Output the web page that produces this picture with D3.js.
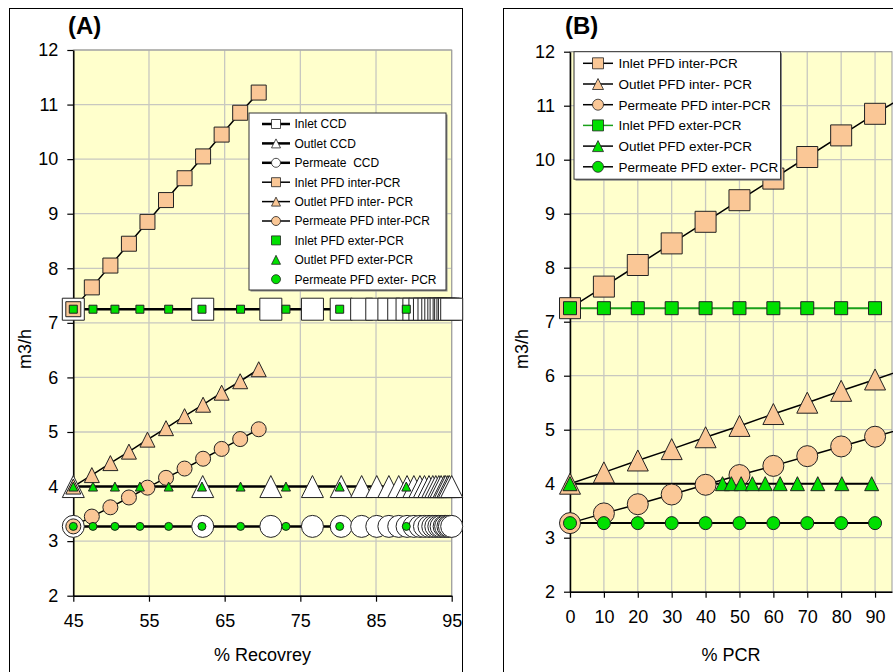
<!DOCTYPE html>
<html>
<head>
<meta charset="utf-8">
<script src="https://cdn.jsdelivr.net/npm/d3@7"></script>
<style>
  body { margin: 0; background: #fff; }
  text { font-family: "Liberation Sans", Arial, sans-serif; }
</style>
</head>
<body>
<script>

// ---- panel A data (% recovery) ----
var recCCD = [45, 62.1, 71.1, 76.6, 80.4, 83.1, 85.1, 86.7, 88.0, 89.1, 90.0, 90.8, 91.4, 92.0, 92.5, 92.9, 93.3, 93.6, 94.0, 94.2, 94.5, 94.7, 95.0];
var inletCCD = [7.25, 7.25, 7.25, 7.25, 7.25, 7.25, 7.25, 7.25, 7.25, 7.25, 7.25, 7.25, 7.25, 7.25, 7.25, 7.25, 7.25, 7.25, 7.25, 7.25, 7.25, 7.25, 7.25];
var outletCCD = [4, 4, 4, 4, 4, 4, 4, 4, 4, 4, 4, 4, 4, 4, 4, 4, 4, 4, 4, 4, 4, 4, 4];
var permCCD = [3.27, 3.27, 3.27, 3.27, 3.27, 3.27, 3.27, 3.27, 3.27, 3.27, 3.27, 3.27, 3.27, 3.27, 3.27, 3.27, 3.27, 3.27, 3.27, 3.27, 3.27, 3.27, 3.27];

var recInter = [45, 47.45, 49.9, 52.35, 54.8, 57.25, 59.7, 62.15, 64.6, 67.05, 69.5];
var recExter = [45, 47.6, 50.5, 53.8, 57.6, 62.0, 67.1, 73.1, 80.2, 89.0];

// ---- shared PFD values ----
var inletInter = [7.25, 7.65, 8.05, 8.45, 8.85, 9.25, 9.65, 10.05, 10.45, 10.85, 11.22];
var outletInter = [4.0, 4.21, 4.43, 4.64, 4.86, 5.07, 5.29, 5.5, 5.72, 5.93, 6.15];
var permInter = [3.27, 3.45, 3.62, 3.8, 3.98, 4.16, 4.33, 4.51, 4.69, 4.87, 5.05];
var inletExter = [7.25, 7.25, 7.25, 7.25, 7.25, 7.25, 7.25, 7.25, 7.25, 7.25];
var outletExter = [4, 4, 4, 4, 4, 4, 4, 4, 4, 4, 4];
var permExter = [3.27, 3.27, 3.27, 3.27, 3.27, 3.27, 3.27, 3.27, 3.27, 3.27];

// ---- panel B x values (% PCR) ----
var pcr = [0, 10, 20, 30, 40, 50, 60, 70, 80, 90, 100];
var pcrExter = [0, 10, 20, 30, 40, 50, 60, 70, 80, 90];
var pcrOutletExter = [0, 45, 47.6, 50.5, 53.8, 57.6, 62.0, 67.1, 73.1, 80.2, 89.0];

var ticksA = [45, 55, 65, 75, 85, 95];
var ticksB = [0, 10, 20, 30, 40, 50, 60, 70, 80, 90];
var ticksY = [2, 3, 4, 5, 6, 7, 8, 9, 10, 11, 12];

var tan = "#fac796";
var green = "#00e000";
var plotBg = "#ffffcc";
var gridCol = "#c8c8c0";

var svg = d3.select("body").append("svg")
  .attr("width", 893)
  .attr("height", 672);

// marker shapes, size = box width in px
function shapePath(shape, s) {
  var h = s / 2;
  if (shape == "square") return "M" + (-h) + "," + (-h) + "h" + s + "v" + s + "h" + (-s) + "Z";
  if (shape == "triangle") return "M0," + (-h) + "L" + h + "," + h + "L" + (-h) + "," + h + "Z";
  return "M" + h + ",0A" + h + "," + h + " 0 1,1 " + (-h) + ",0A" + h + "," + h + " 0 1,1 " + h + ",0Z";
}

function drawLine(g, x, y, xs, ys, color, width) {
  var pts = xs.map(function (v, i) { return [v, ys[i]]; });
  g.append("path")
    .datum(pts)
    .attr("d", d3.line().x(function (d) { return x(d[0]); }).y(function (d) { return y(d[1]); }))
    .attr("fill", "none")
    .attr("stroke", color)
    .attr("stroke-width", width);
}

function drawMarkers(g, x, y, xs, ys, shape, size, fill) {
  var pts = xs.map(function (v, i) { return [v, ys[i]]; });
  g.append("g").selectAll("path")
    .data(pts)
    .enter()
    .append("path")
    .attr("transform", function (d) { return "translate(" + x(d[0]) + "," + y(d[1]) + ")"; })
    .attr("d", shapePath(shape, size))
    .attr("fill", fill)
    .attr("stroke", "#222")
    .attr("stroke-width", 1);
}

function panel(id, frameX, left, right, top, bottom, xDomain, xTicks, xLabel, title, titleX) {
  svg.append("rect")
    .attr("x", frameX).attr("y", 8.5)
    .attr("width", id == "A" ? 453 : 500)
    .attr("height", 700)
    .attr("fill", "none")
    .attr("stroke", "#000")
    .attr("stroke-width", 1);

  var x = d3.scaleLinear().domain(xDomain).range([left, right]);
  var y = d3.scaleLinear().domain([2, 12]).range([bottom, top]);

  svg.append("rect")
    .attr("x", left).attr("y", top)
    .attr("width", right - left).attr("height", bottom - top)
    .attr("fill", plotBg);

  var grid = svg.append("g");
  grid.selectAll(".gx").data(xTicks.filter(function (t) { return t > xDomain[0]; }))
    .enter().append("line")
    .attr("x1", function (d) { return x(d); }).attr("x2", function (d) { return x(d); })
    .attr("y1", top).attr("y2", bottom)
    .attr("stroke", gridCol).attr("stroke-width", 1.3);
  grid.selectAll(".gy").data(ticksY.filter(function (t) { return t > 2; }))
    .enter().append("line")
    .attr("x1", left).attr("x2", right)
    .attr("y1", function (d) { return y(d); }).attr("y2", function (d) { return y(d); })
    .attr("stroke", gridCol).attr("stroke-width", 1.3);

  svg.append("rect")
    .attr("x", left).attr("y", top)
    .attr("width", right - left).attr("height", bottom - top)
    .attr("fill", "none")
    .attr("stroke", "#999").attr("stroke-width", 1);

  var yAxis = svg.append("g")
    .attr("transform", "translate(" + left + ",0)")
    .call(d3.axisLeft(y).tickValues(ticksY).tickSize(6).tickPadding(9).tickSizeOuter(0));
  var xAxis = svg.append("g")
    .attr("transform", "translate(0," + bottom + ")")
    .call(d3.axisBottom(x).tickValues(xTicks).tickSize(6).tickPadding(13).tickSizeOuter(0));
  [xAxis, yAxis].forEach(function (a) {
    a.select(".domain").attr("stroke", "#000").attr("stroke-width", 1.5);
    a.selectAll(".tick line").attr("stroke", "#000").attr("stroke-width", 1.2);
    a.selectAll("text").attr("font-size", "18px").attr("fill", "#000")
      .attr("font-family", "'Liberation Sans', Arial, sans-serif");
  });

  svg.append("text")
    .attr("x", titleX).attr("y", 34)
    .attr("font-size", "24px").attr("font-weight", "bold")
    .text(title);

  svg.append("text")
    .attr("x", (left + right) / 2).attr("y", 661)
    .attr("text-anchor", "middle")
    .attr("font-size", "18px")
    .text(xLabel);

  svg.append("text")
    .attr("transform", "translate(" + (left - 42) + ",349) rotate(-90)")
    .attr("text-anchor", "middle")
    .attr("font-size", "18px")
    .text("m3/h");

  svg.append("clipPath").attr("id", "clip" + id)
    .append("rect")
    .attr("x", left - 14).attr("y", top)
    .attr("width", right - left + 28).attr("height", bottom - top);

  var g = svg.append("g");
  var gl = g.append("g").attr("clip-path", "url(#clip" + id + ")");
  return { x: x, y: y, lines: gl, marks: g };
}

// ---------- Panel A ----------
var A = panel("A", 9.5, 73.3, 451.7, 50, 595.7, [45, 95], ticksA, "% Recovrey", "(A)", 68);
var aClip = A.lines;
drawLine(aClip, A.x, A.y, recCCD, inletCCD, "#000", 2.5);
drawLine(aClip, A.x, A.y, recCCD, outletCCD, "#000", 2.5);
drawLine(aClip, A.x, A.y, recCCD, permCCD, "#000", 2.5);
drawLine(aClip, A.x, A.y, recInter, inletInter, "#000", 1.5);
drawLine(aClip, A.x, A.y, recInter, outletInter, "#000", 1.5);
drawLine(aClip, A.x, A.y, recInter, permInter, "#000", 1.5);

drawMarkers(A.marks, A.x, A.y, recCCD, inletCCD, "square", 22, "#fff");
drawMarkers(A.marks, A.x, A.y, recCCD, outletCCD, "triangle", 22, "#fff");
drawMarkers(A.marks, A.x, A.y, recCCD, permCCD, "circle", 22, "#fff");
drawMarkers(A.marks, A.x, A.y, recInter, inletInter, "square", 15, tan);
drawMarkers(A.marks, A.x, A.y, recInter, outletInter, "triangle", 15, tan);
drawMarkers(A.marks, A.x, A.y, recInter, permInter, "circle", 15, tan);
drawMarkers(A.marks, A.x, A.y, recExter, inletExter, "square", 8, green);
drawMarkers(A.marks, A.x, A.y, recExter, outletExter, "triangle", 9, green);
drawMarkers(A.marks, A.x, A.y, recExter, permExter, "circle", 8, green);

// ---------- Panel B ----------
var B = panel("B", 503.5, 570, 892, 51.7, 591.7, [0, 95], ticksB, "% PCR", "(B)", 565);
var bClip = B.lines;
drawLine(bClip, B.x, B.y, pcr, inletInter, "#000", 1.5);
drawLine(bClip, B.x, B.y, pcr, outletInter, "#000", 1.5);
drawLine(bClip, B.x, B.y, pcr, permInter, "#000", 1.5);
drawLine(bClip, B.x, B.y, pcrExter, inletExter, "#1aa01a", 2);
drawLine(bClip, B.x, B.y, pcrOutletExter, outletExter, "#000", 2);
drawLine(bClip, B.x, B.y, pcrExter, permExter, "#000", 2);

drawMarkers(B.marks, B.x, B.y, pcr.slice(0, 10), inletInter, "square", 21, tan);
drawMarkers(B.marks, B.x, B.y, pcr.slice(0, 10), outletInter, "triangle", 21, tan);
drawMarkers(B.marks, B.x, B.y, pcr.slice(0, 10), permInter, "circle", 21, tan);
drawMarkers(B.marks, B.x, B.y, pcrExter, inletExter, "square", 13, green);
drawMarkers(B.marks, B.x, B.y, pcrOutletExter, outletExter, "triangle", 14, green);
drawMarkers(B.marks, B.x, B.y, pcrExter, permExter, "circle", 13, green);

// ---------- Legends ----------
var legA = [
  { name: "Inlet CCD", shape: "square", fill: "#fff", line: "#000", lw: 2.5 },
  { name: "Outlet CCD", shape: "triangle", fill: "#fff", line: "#000", lw: 2.5 },
  { name: "Permeate  CCD", shape: "circle", fill: "#fff", line: "#000", lw: 2.5 },
  { name: "Inlet PFD inter-PCR", shape: "square", fill: tan, line: "#000", lw: 1.5 },
  { name: "Outlet PFD inter- PCR", shape: "triangle", fill: tan, line: "#000", lw: 1.5 },
  { name: "Permeate PFD inter-PCR", shape: "circle", fill: tan, line: "#000", lw: 1.5 },
  { name: "Inlet PFD exter-PCR", shape: "square", fill: green, line: null },
  { name: "Outlet PFD exter-PCR", shape: "triangle", fill: green, line: null },
  { name: "Permeate PFD exter- PCR", shape: "circle", fill: green, line: null }
];
var legB = [
  { name: "Inlet PFD inter-PCR", shape: "square", fill: tan, line: "#000", lw: 1.5 },
  { name: "Outlet PFD inter- PCR", shape: "triangle", fill: tan, line: "#000", lw: 1.5 },
  { name: "Permeate PFD inter-PCR", shape: "circle", fill: tan, line: "#000", lw: 1.5 },
  { name: "Inlet PFD exter-PCR", shape: "square", fill: green, line: "#1aa01a", lw: 1.5 },
  { name: "Outlet PFD exter-PCR", shape: "triangle", fill: green, line: "#000", lw: 1.5 },
  { name: "Permeate PFD exter- PCR", shape: "circle", fill: green, line: "#000", lw: 1.5 }
];

function legend(items, bx, by, bw, bh, rowY, rowStep, lx0, lx1, tx, msize, fsize) {
  var lg = svg.append("g");
  lg.append("rect")
    .attr("x", bx + 1.5).attr("y", by + 1.5).attr("width", bw).attr("height", bh)
    .attr("fill", "#888");
  lg.append("rect")
    .attr("x", bx).attr("y", by).attr("width", bw).attr("height", bh)
    .attr("fill", "#fff").attr("stroke", "#333").attr("stroke-width", 1);
  items.forEach(function (d, i) {
    var cy = rowY + i * rowStep;
    if (d.line) {
      lg.append("line")
        .attr("x1", lx0).attr("x2", lx1).attr("y1", cy).attr("y2", cy)
        .attr("stroke", d.line).attr("stroke-width", d.lw);
    }
    lg.append("path")
      .attr("transform", "translate(" + ((lx0 + lx1) / 2) + "," + cy + ")")
      .attr("d", shapePath(d.shape, msize))
      .attr("fill", d.fill).attr("stroke", "#222").attr("stroke-width", 0.8);
    lg.append("text")
      .attr("x", tx).attr("y", cy + fsize * 0.36)
      .attr("font-size", fsize + "px")
      .style("white-space", "pre")
      .text(d.name);
  });
}

legend(legA, 249, 113, 197, 177, 124, 19.4, 262, 290, 294.5, 9, 12);
legend(legB, 574, 51.7, 206.5, 127.5, 63.3, 20.7, 583, 613, 618.5, 11, 13.5);

</script>
</body>
</html>
